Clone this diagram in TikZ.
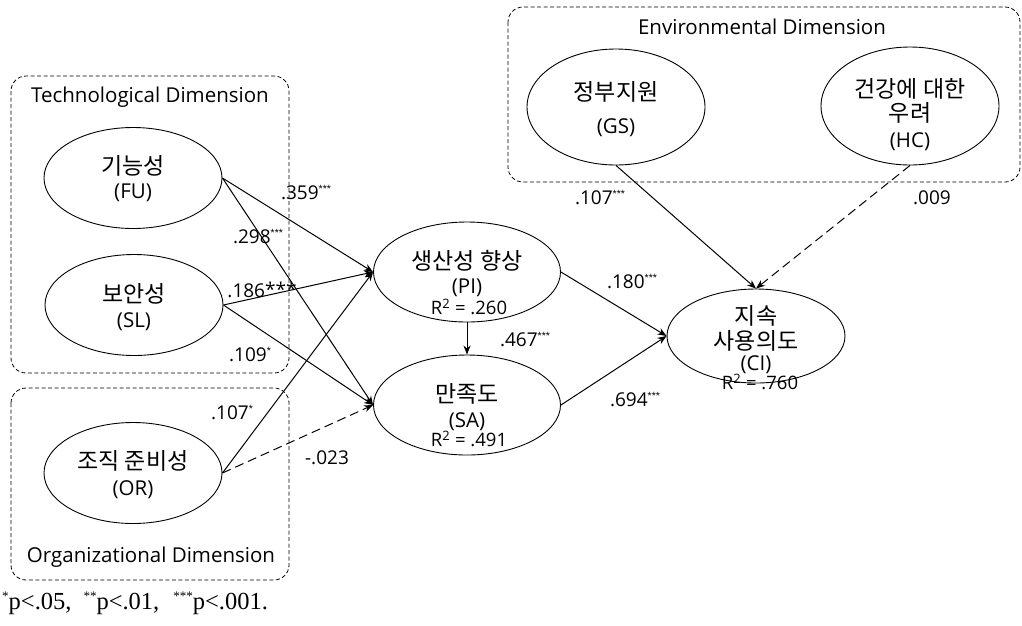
\documentclass[tikz,border=0pt]{standalone}
\usepackage{fontspec}
\setmainfont{Open Sans}
\newfontfamily\kr{Noto Sans CJK KR}
\newfontfamily\tms{Liberation Serif}
\newfontfamily\lsans{Liberation Sans}
\newcommand\sigst[1]{\raisebox{7pt}{\lsans\fontsize{10.5}{10}\selectfont #1}}
\newcommand\fnst[1]{\raisebox{9pt}{\fontsize{13}{13}\selectfont #1}}
\usetikzlibrary{arrows.meta,shapes.geometric,calc}
\begin{document}
\begin{tikzpicture}[x=1pt,y=-1pt,
  ell/.style={draw,line width=0.9pt,ellipse,inner sep=0pt,minimum width=178pt,minimum height=101pt},
  grp/.style={draw,line width=0.8pt,dash pattern=on 4pt off 2.5pt,rounded corners=15pt},
  txt/.style={font=\fontsize{20.5}{26}\selectfont,align=center,inner sep=0pt},
  ktxt/.style={font=\fontsize{23}{26}\selectfont\kr,align=center,inner sep=0pt},
  coef/.style={font=\fontsize{19}{22}\selectfont,inner sep=0pt},
  rsq/.style={font=\fontsize{18.5}{22}\selectfont,inner sep=0pt},
  path/.style={line width=1pt,-{Stealth[length=9pt,width=7pt]}},
  npath/.style={path,dash pattern=on 9pt off 5pt},
  every node/.style={inner sep=0pt}]
\useasboundingbox (0,0) rectangle (1022,625);
% group boxes
\draw[grp] (11,76) rectangle (289,373);
\draw[grp] (11,388) rectangle (289,580);
\draw[grp] (508,7) rectangle (1020,182);
\node[txt] (tdl) at (150,97) {Technological Dimension};
\node[txt] (odl) at (151,557) {Organizational Dimension};
\node[txt] (edl) at (762,27) {Environmental Dimension};
% ellipses
\node[ell] (FU) at (133,178) {};
\node[ktxt] (FUt) at (133,166) {기능성};
\node[txt] (FUa) at (133,193) {(FU)};
\node[ell] (SL) at (134,305) {};
\node[ktxt] (SLt) at (134,294) {보안성};
\node[txt] (SLa) at (134,322) {(SL)};
\node[ell] (OR) at (133,473) {};
\node[ktxt] (ORt) at (133,461) {조직 준비성};
\node[txt] (ORa) at (133,490) {(OR)};
\node[ell,minimum width=187pt,minimum height=100pt] (PI) at (467,272) {};
\node[ktxt] (PIt) at (467,261) {생산성 향상};
\node[txt] (PIa) at (467,288) {(PI)};
\node[rsq] (PIr) at (469,307) {R\textsuperscript{2} = .260};
\node[ell,minimum width=187pt,minimum height=100pt] (SA) at (467,405) {};
\node[ktxt] (SAt) at (467,394) {만족도};
\node[txt] (SAa) at (467,422) {(SA)};
\node[rsq] (SAr) at (469,439) {R\textsuperscript{2} = .491};
\node[ell,minimum width=178pt,minimum height=94pt] (CI) at (756,336) {};
\node[ktxt] (CIt) at (756,316) {지속};
\node[ktxt] (CIt2) at (756,341) {사용의도};
\node[txt] (CIa) at (756,365) {(CI)};
\node[rsq] (CIr) at (760,382) {R\textsuperscript{2} = .760};
\node[ell,minimum width=178pt,minimum height=116pt] (GS) at (616,107) {};
\node[ktxt] (GSt) at (616,92) {정부지원};
\node[txt] (GSa) at (616,128) {(GS)};
\node[ell,minimum width=178pt,minimum height=118pt] (HC) at (910,106) {};
\node[ktxt] (HCt) at (910,89) {건강에 대한};
\node[ktxt] (HCt2) at (910,113) {우려};
\node[txt] (HCa) at (910,142) {(HC)};
% paths
\draw[path] (FU.east) -- (PI.west);
\draw[path] (FU.east) -- (SA.west);
\draw[path] (SL.east) -- (PI.west);
\draw[path] (SL.east) -- (SA.west);
\draw[path] (OR.east) -- (PI.west);
\draw[npath] (OR.east) -- (SA.west);
\draw[path] (PI.south) -- (SA.north);
\draw[path] (PI.east) -- (CI.west);
\draw[path] (SA.east) -- (CI.west);
\draw[path] (GS.south) -- (CI.north);
\draw[npath] (HC.south) -- (CI.north);
% coefficients
\node[coef] (c1) at (306,193) {.359\sigst{***}};
\node[coef] (c2) at (258,237) {.298\sigst{***}};
\node[coef] (c3) at (262,290) {.186\raisebox{1pt}{***}};
\node[coef] (c4) at (250,355) {.109\sigst{*}};
\node[coef] (c5) at (232,413) {.107\sigst{*}};
\node[coef] (c6) at (327,458) {-.023};
\node[coef] (c7) at (525,340) {.467\sigst{***}};
\node[coef] (c8) at (632,282) {.180\sigst{***}};
\node[coef] (c9) at (635,400) {.694\sigst{***}};
\node[coef] (c10) at (600,198) {.107\sigst{***}};
\node[coef] (c11) at (932,198) {.009};
% footnote
\node[anchor=west,font=\fontsize{24.5}{28}\selectfont\tms] (fn) at (2,603) {\fnst{*}p<.05,\hspace{12pt}\fnst{**}p<.01,\hspace{14pt}\fnst{***}p<.001.};
\end{tikzpicture}
\end{document}
